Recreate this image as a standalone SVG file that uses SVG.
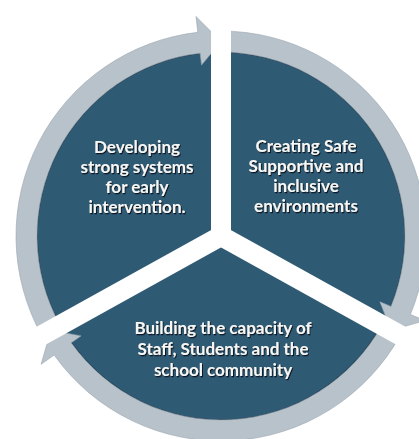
<svg xmlns="http://www.w3.org/2000/svg" width="419" height="439" viewBox="0 0 419 439">
<style>
.sector{fill:#2e5a73;stroke:#1b3547;stroke-width:1.5}
.band{fill:#b8c2cb;stroke:#9aa6b0;stroke-width:0.6}
.lbl{font-family:Lato,"Open Sans","DejaVu Sans",sans-serif;font-weight:bold;font-size:17px;fill:#f6f7f5;text-anchor:middle;filter:url(#sh)}
</style>
<defs>
<filter id="sh" x="-10%" y="-30%" width="120%" height="160%">
<feDropShadow dx="1" dy="1.2" stdDeviation="0.7" flood-color="#0b1822" flood-opacity="1"/>
</filter>
<mask id="gaps" maskUnits="userSpaceOnUse" x="0" y="0" width="419" height="439">
<rect x="0" y="0" width="419" height="439" fill="#fff"/>
<g stroke="#000" stroke-width="20" stroke-linecap="round">
<line x1="221" y1="236" x2="221" y2="-20"/>
<line x1="221" y1="236" x2="483.4" y2="381.4"/>
<line x1="221" y1="236" x2="-41.4" y2="381.4"/>
</g>
</mask>
</defs>
<g mask="url(#gaps)">
<g id="node-early-intervention">
<path class="sector" d="M221,236 L60.07,325.21 A184,184 0 0 1 221,52 Z"/>
</g>
<g id="node-safe-environments">
<path class="sector" d="M221,236 L221,52 A184,184 0 0 1 381.93,325.21 Z"/>
</g>
<g id="node-building-capacity">
<path class="sector" d="M221,236 L381.93,325.21 A184,184 0 0 1 60.07,325.21 Z"/>
</g>
<g id="connectors">
<path class="band" d="M41.70,335.39 A205,205 0 0 1 197.79,32.32 L195.98,16.42 L221,41.5 L201.53,65.11 L200.17,53.18 A184,184 0 0 0 60.07,325.21 Z"/>
<path class="band" d="M221,31 A205,205 0 0 1 410.40,314.45 L425.18,320.57 L391.11,330.30 L379.91,301.82 L390.99,306.41 A184,184 0 0 0 221,52 Z"/>
<path class="band" d="M400.30,335.39 A205,205 0 0 1 54.11,355.04 L41.08,364.33 L50.89,330.30 L80.97,335.88 L71.20,342.85 A184,184 0 0 0 381.93,325.21 Z"/>
</g>
</g>
<g id="labels">
<text class="lbl"><tspan x="137" y="153">Developing</tspan><tspan x="137" y="173">strong systems</tspan><tspan x="137" y="193">for early</tspan><tspan x="137" y="213">intervention.</tspan></text>
<text class="lbl"><tspan x="306" y="152">Creating Safe</tspan><tspan x="306" y="172">Supportive and</tspan><tspan x="306" y="192">inclusive</tspan><tspan x="306" y="212">environments</tspan></text>
<text class="lbl"><tspan x="223" y="334">Building the capacity of</tspan><tspan x="223" y="355">Staff, Students and the</tspan><tspan x="223" y="376">school community</tspan></text>
</g>
</svg>
